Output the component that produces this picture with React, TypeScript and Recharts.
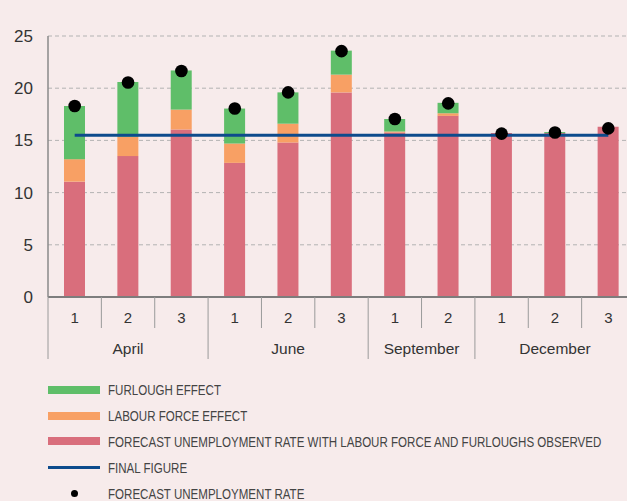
import { ComposedChart, Bar, Line, XAxis, YAxis, CartesianGrid, Legend } from "recharts";

const weeks = ["1", "2", "3", "1", "2", "3", "1", "2", "1", "2", "3"];
const months = ["April", "April", "April", "June", "June", "June", "September", "September", "December", "December", "December"];

// stacked parts
const observedRate = [11.05, 13.5, 16.05, 12.85, 14.8, 19.6, 15.75, 17.35, 15.7, 15.7, 16.3];
const labourForceEffect = [2.15, 1.85, 1.9, 1.85, 1.8, 1.7, 0.1, 0.25, 0, 0, 0];
const furloughEffect = [5.1, 5.25, 3.75, 3.35, 3.0, 2.3, 1.2, 1.0, 0, 0.1, 0];

const forecastRate = [18.3, 20.55, 21.65, 18.05, 19.6, 23.55, 17.05, 18.55, 15.65, 15.75, 16.15];
const finalFigure = [15.5, 15.5, 15.5, 15.5, 15.5, 15.5, 15.5, 15.5, 15.5, 15.5, 15.5];

const yTicks = [0, 5, 10, 15, 20, 25];

const RED = "#d96e7c";
const ORANGE = "#f8a064";
const GREEN = "#5fbe69";
const BLUE = "#0d4b8c";
const FONT = "'Liberation Sans', Arial, sans-serif";

const data = weeks.map((w, i) => ({
  key: i,
  week: w,
  month: months[i],
  observed: observedRate[i],
  labour: labourForceEffect[i],
  furlough: furloughEffect[i],
  forecast: forecastRate[i],
  final: finalFigure[i],
}));

const legendItems = [
  { label: "FURLOUGH EFFECT", color: GREEN, kind: "bar" },
  { label: "LABOUR FORCE EFFECT", color: ORANGE, kind: "bar" },
  { label: "FORECAST UNEMPLOYMENT RATE WITH LABOUR FORCE AND FURLOUGHS OBSERVED", color: RED, kind: "bar" },
  { label: "FINAL FIGURE", color: BLUE, kind: "line" },
  { label: "FORECAST UNEMPLOYMENT RATE", color: "#000", kind: "dot" },
];

const GroupTick = (props: any) => {
  const { x, y, payload, index } = props;
  const i = index ?? payload.index;
  const half = payload.offset || 26.7;
  const month = months[i];
  const first = months.indexOf(month);
  const last = months.lastIndexOf(month);
  const left = x - half;
  const lineColor = "#9a9a9a";
  return (
    <g>
      <line x1={left} x2={left} y1={y} y2={y + (first === i ? 62 : 31)} stroke={lineColor} strokeWidth={1} />
      {i === weeks.length - 1 && (
        <line x1={x + half} x2={x + half} y1={y} y2={y + 62} stroke={lineColor} strokeWidth={1} />
      )}
      <text x={x} y={y + 26} textAnchor="middle" fontSize={15} fill="#333" fontFamily={FONT}>
        {weeks[i]}
      </text>
      {first === i && (
        <text
          x={x + ((first + last) / 2 - i) * 2 * half}
          y={y + 57}
          textAnchor="middle"
          fontSize={15.5}
          fill="#333"
          fontFamily={FONT}
        >
          {month}
        </text>
      )}
    </g>
  );
};

const renderLegend = () => (
  <div style={{ fontFamily: FONT }}>
    {legendItems.map((it) => (
      <div key={it.label} style={{ display: "flex", alignItems: "center", height: 25.8 }}>
        <div style={{ width: 52, display: "flex", justifyContent: "center", alignItems: "center" }}>
          {it.kind === "bar" && <div style={{ width: 52, height: 8, background: it.color }} />}
          {it.kind === "line" && <div style={{ width: 52, height: 3, background: it.color }} />}
          {it.kind === "dot" && <div style={{ width: 7, height: 7, borderRadius: 4, background: it.color }} />}
        </div>
        <span
          style={{
            marginLeft: 8,
            fontSize: 15,
            color: "#444",
            whiteSpace: "nowrap",
            display: "inline-block",
            transform: "scaleX(0.77)",
            transformOrigin: "left center",
          }}
        >
          {it.label}
        </span>
      </div>
    ))}
  </div>
);

export default function App() {
  return (
    <div
      style={{
        position: "absolute",
        left: 0,
        top: 0,
        width: 627,
        height: 501,
        overflow: "hidden",
        background: "#f7ebeb",
      }}
    >
      <ComposedChart
        width={640}
        height={501}
        data={data}
        margin={{ top: 36, right: 5, left: 0, bottom: 142 }}
        barCategoryGap={0}
      >
        <CartesianGrid vertical={false} strokeDasharray="4 3" stroke="#b3b3b3" />
        <XAxis
          dataKey="key"
          interval={0}
          height={62}
          tickLine={false}
          tickSize={0}
          tickMargin={0}
          axisLine={{ stroke: "#7d7d7d", strokeWidth: 2 }}
          tick={<GroupTick />}
        />
        <YAxis
          width={48}
          domain={[0, 25]}
          ticks={yTicks}
          tickLine={false}
          tickMargin={9}
          axisLine={{ stroke: "#8a8a8a", strokeWidth: 1.5 }}
          tick={{ fontSize: 17, fill: "#333", fontFamily: FONT }}
        />
        <Bar dataKey="observed" stackId="a" fill={RED} barSize={21} isAnimationActive={false} />
        <Bar dataKey="labour" stackId="a" fill={ORANGE} barSize={21} isAnimationActive={false} />
        <Bar dataKey="furlough" stackId="a" fill={GREEN} barSize={21} isAnimationActive={false} />
        <Line
          dataKey="final"
          type="linear"
          stroke={BLUE}
          strokeWidth={3}
          dot={false}
          activeDot={false}
          isAnimationActive={false}
        />
        <Line
          dataKey="forecast"
          stroke="none"
          dot={{ r: 6.3, fill: "#000", stroke: "none" }}
          activeDot={false}
          isAnimationActive={false}
        />
        <Legend
          layout="vertical"
          verticalAlign="middle"
          align="center"
          wrapperStyle={{ position: "absolute", left: 48, top: 377, width: 579 }}
          content={renderLegend}
        />
      </ComposedChart>
    </div>
  );
}
